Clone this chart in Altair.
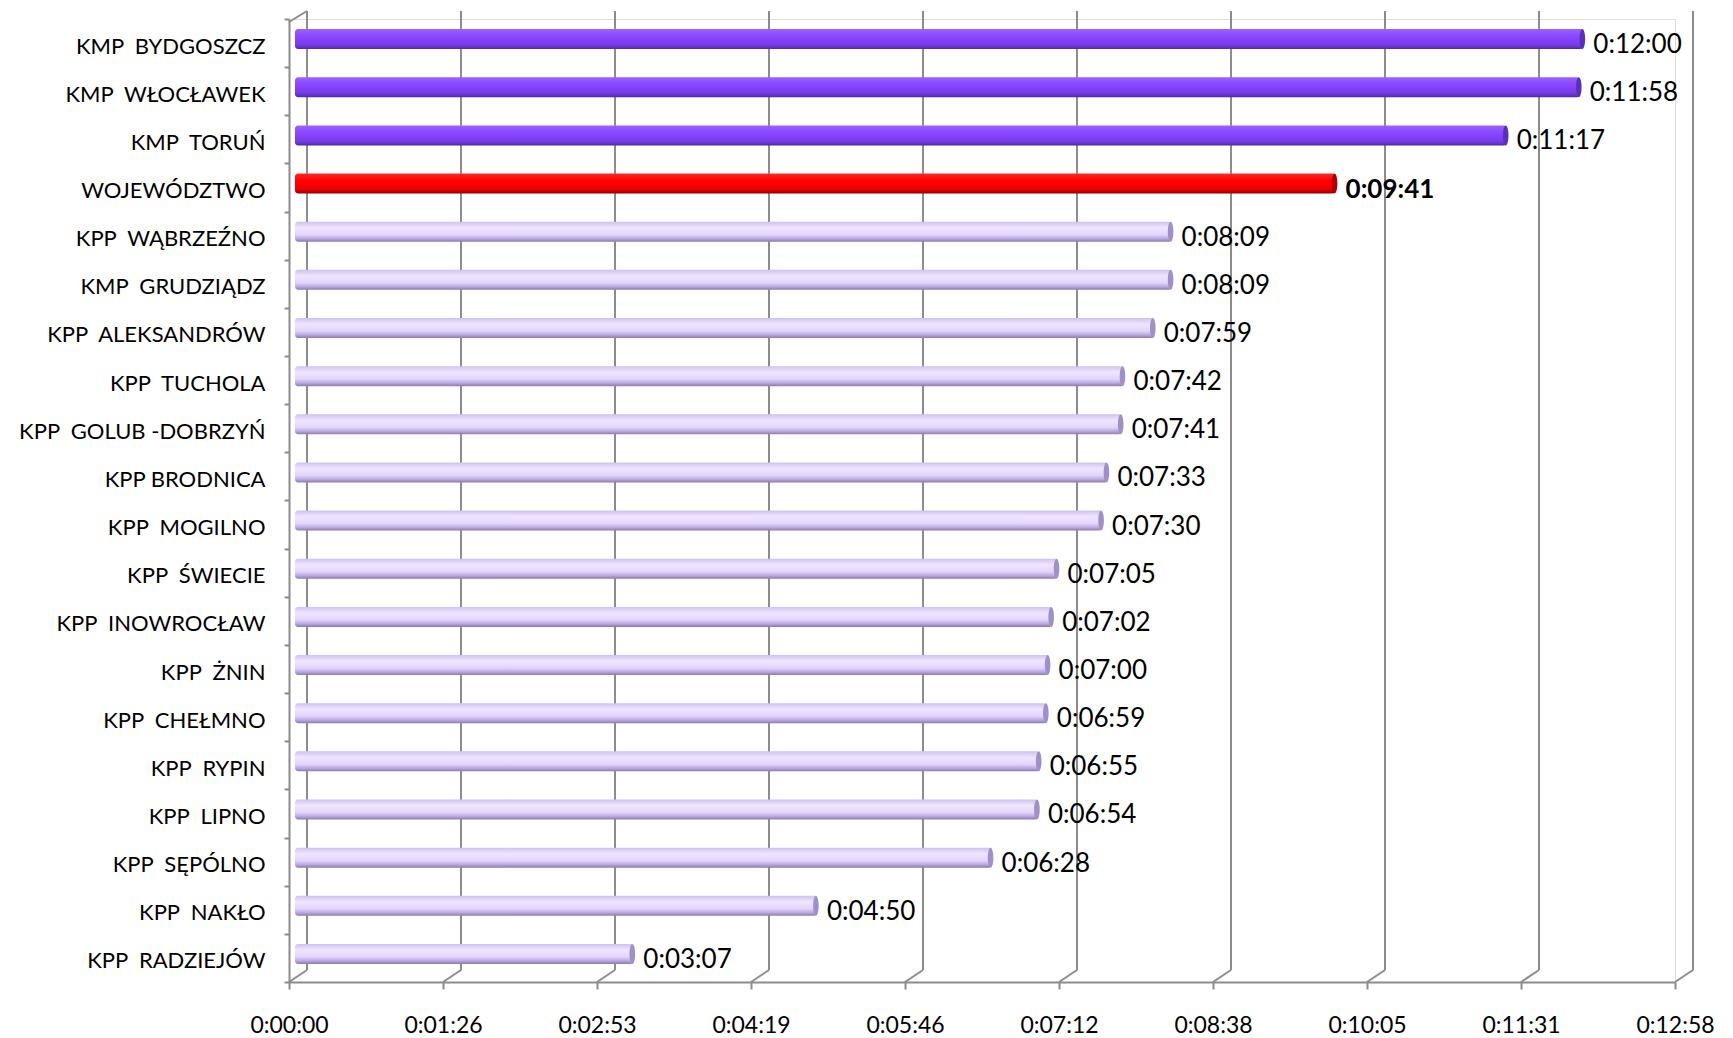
import altair as alt
import pandas as pd

NB = "\u00a0 "
names = [
    "KMP" + NB + "BYDGOSZCZ", "KMP" + NB + "WŁOCŁAWEK", "KMP" + NB + "TORUŃ", "WOJEWÓDZTWO",
    "KPP" + NB + "WĄBRZEŹNO", "KMP" + NB + "GRUDZIĄDZ", "KPP" + NB + "ALEKSANDRÓW", "KPP" + NB + "TUCHOLA",
    "KPP" + NB + "GOLUB -DOBRZYŃ", "KPP BRODNICA", "KPP" + NB + "MOGILNO", "KPP" + NB + "ŚWIECIE",
    "KPP" + NB + "INOWROCŁAW", "KPP" + NB + "ŻNIN", "KPP" + NB + "CHEŁMNO", "KPP" + NB + "RYPIN",
    "KPP" + NB + "LIPNO", "KPP" + NB + "SĘPÓLNO", "KPP" + NB + "NAKŁO", "KPP" + NB + "RADZIEJÓW",
]
times = [
    "0:12:00", "0:11:58", "0:11:17", "0:09:41", "0:08:09", "0:08:09", "0:07:59", "0:07:42",
    "0:07:41", "0:07:33", "0:07:30", "0:07:05", "0:07:02", "0:07:00", "0:06:59", "0:06:55",
    "0:06:54", "0:06:28", "0:04:50", "0:03:07",
]
groups = ["top", "top", "top", "woj"] + ["rest"] * 16
tick_labels = ["0:00:00", "0:01:26", "0:02:53", "0:04:19", "0:05:46",
               "0:07:12", "0:08:38", "0:10:05", "0:11:31", "0:12:58"]


def to_sec(s):
    h, m, sec = s.split(":")
    return int(h) * 3600 + int(m) * 60 + int(sec)


df = pd.DataFrame({"name": names, "sec": [to_sec(t) for t in times], "label": times, "grp": groups})
ticks = pd.DataFrame({"t": [i * 86.4 for i in range(len(tick_labels))]})

W, H = 1386, 963
GRID = "#8c8c8c"
FONT = "Lato"
label_arr = "[" + ",".join("'%s'" % s for s in tick_labels) + "]"

xscale = alt.Scale(domain=[0, 777.6], nice=False, zero=True)
yscale = alt.Scale(domain=names, paddingInner=0, paddingOuter=0)

xaxis = alt.Axis(values=list(ticks["t"]), labelExpr=label_arr + "[round(datum.value/86.4)]",
                 grid=False, domainColor=GRID, domainWidth=2, tickColor=GRID, tickWidth=2,
                 tickSize=7, labelFont=FONT, labelFontSize=23, labelColor="black",
                 labelBaseline="middle", labelPadding=36, labelFlush=False,
                 labelOverlap=False, title=None)
yaxis = alt.Axis(domainColor=GRID, domainWidth=2, tickColor=GRID, tickWidth=2, tickSize=5,
                 tickBand="extent", labelFont=FONT, labelFontSize=22, labelColor="black",
                 labelPadding=19, labelLimit=0, labelOffset=3, title=None)

base = alt.Chart(df)


def grad(stops):
    return alt.Gradient(gradient="linear", x1=0, x2=0, y1=0, y2=1,
                        stops=[alt.GradientStop(color=c, offset=o) for o, c in stops])


g_top = grad([(0, "#9a62ff"), (0.35, "#8a48ff"), (0.75, "#7a3cf0"), (0.9, "#6436c8"), (1, "#4a2a94")])
g_woj = grad([(0, "#ff2a2a"), (0.35, "#ff0000"), (0.75, "#f00000"), (0.9, "#c00000"), (1, "#8a0000")])
g_rest = grad([(0, "#cfc0f0"), (0.3, "#f0e6ff"), (0.65, "#e2d4fc"), (0.85, "#b8a8dc"), (1, "#8a7ab0")])
caps = {"top": "#5a30b8", "woj": "#b00000", "rest": "#a090c8"}

DX, DY = 18, 12
grid_v = alt.Chart(ticks).mark_rule(color=GRID, strokeWidth=2, xOffset=DX).encode(
    x=alt.X("t:Q", scale=xscale, axis=xaxis), y=alt.value(-8), y2=alt.value(H - DY))
grid_d = alt.Chart(ticks).mark_rule(color=GRID, strokeWidth=2, x2Offset=DX).encode(
    x=alt.X("t:Q", scale=xscale), x2="t:Q", y=alt.value(H), y2=alt.value(H - DY))
corner = alt.Chart(ticks).transform_filter("datum.t == 0").mark_rule(
    color=GRID, strokeWidth=2, x2Offset=DX).encode(
    x=alt.X("t:Q", scale=xscale), x2="t:Q", y=alt.value(3), y2=alt.value(-8))

layers = [grid_v, grid_d, corner]
ellipse = "M0,-1 A0.28,1 0 1,1 0,1 A0.28,1 0 1,1 0,-1 Z"
for g, gr in [("top", g_top), ("woj", g_woj), ("rest", g_rest)]:
    sub = base.transform_filter(alt.datum.grp == g)
    layers.append(sub.mark_bar(color=gr, size=20, yOffset=-4, xOffset=11, x2Offset=6,
                               cornerRadius=3).encode(
        x=alt.X("sec:Q", scale=xscale, stack=None),
        x2=alt.datum(0),
        y=alt.Y("name:N", scale=yscale, axis=yaxis, sort=names)))
    layers.append(sub.mark_point(shape=ellipse, filled=True, color=caps[g], opacity=1,
                                 size=400, yOffset=-4, xOffset=10).encode(
        x=alt.X("sec:Q", scale=xscale), y=alt.Y("name:N", scale=yscale, sort=names)))

layers.append(base.transform_filter(alt.datum.grp != "woj").mark_text(
    align="left", baseline="middle", dx=21, dy=2, fontSize=26, font=FONT, color="black").encode(
    x=alt.X("sec:Q", scale=xscale), y=alt.Y("name:N", scale=yscale, sort=names), text="label:N"))
layers.append(base.transform_filter(alt.datum.grp == "woj").mark_text(
    align="left", baseline="middle", dx=21, dy=2, fontSize=26, font=FONT, color="black",
    fontWeight="bold").encode(
    x=alt.X("sec:Q", scale=xscale), y=alt.Y("name:N", scale=yscale, sort=names), text="label:N"))

chart = alt.layer(*layers).properties(
    width=W, height=H,
    autosize=alt.AutoSizeParams(type="none"),
    padding={"left": 281, "top": 11, "right": 50, "bottom": 58},
).configure_view(stroke=None).configure(background="white")

chart.save("out.html", embed_options={"renderer": "svg", "actions": False})
